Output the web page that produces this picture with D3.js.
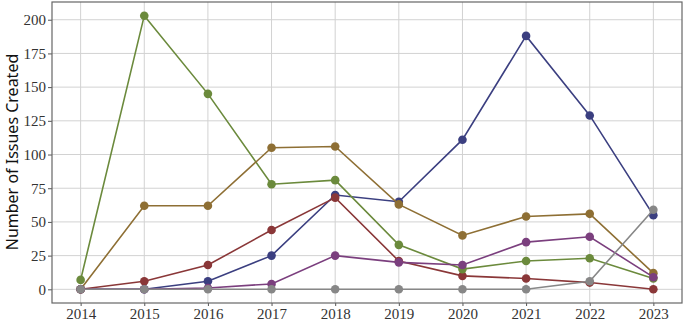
<!DOCTYPE html>
<html>
<head>
<meta charset="utf-8">
<script src="https://cdn.jsdelivr.net/npm/d3@7"></script>
<style>
  body { margin: 0; background: #fff; }
  svg { display: block; }
</style>
</head>
<body>
<svg id="chart"></svg>
<script>
// dimensioni della finestra
const width = 685;
const height = 322;

// anni sull'asse x
const years = [2014, 2015, 2016, 2017, 2018, 2019, 2020, 2021, 2022, 2023];
const yTicks = [0, 25, 50, 75, 100, 125, 150, 175, 200];

// serie, nell'ordine in cui vengono disegnate
const navyValues   = [0, 0, 6, 25, 70, 65, 111, 188, 129, 55];
const redValues    = [0, 6, 18, 44, 68, 21, 10, 8, 5, 0];
const greenValues  = [7, 203, 145, 78, 81, 33, 15, 21, 23, 8];
const goldValues   = [0, 62, 62, 105, 106, 63, 40, 54, 56, 12];
const purpleValues = [0, 0, 1, 4, 25, 20, 18, 35, 39, 9];
const grayValues   = [0, 0, 0, 0, 0, 0, 0, 0, 6, 59];

const seriesColors = ["#3b3f80", "#8a3738", "#6b8a3c", "#8e6f34", "#7b3f7e", "#878787"];

const series = [navyValues, redValues, greenValues, goldValues, purpleValues, grayValues]
  .map((values, i) => ({ color: seriesColors[i], values: values }));

// area del pannello
const margin = { top: 2, right: 3, bottom: 19, left: 52 };

const svg = d3.select("#chart")
  .attr("width", width)
  .attr("height", height);

const x = d3.scaleLinear()
  .domain([2014 - 0.45, 2023 + 0.45])
  .range([margin.left, width - margin.right]);

const yMax = d3.max(series, s => d3.max(s.values));
const y = d3.scaleLinear()
  .domain([-yMax * 0.05, yMax * 1.05])
  .range([height - margin.bottom, margin.top]);

// griglia
const grid = svg.append("g");
grid.selectAll("line.h")
  .data(yTicks)
  .join("line")
  .attr("x1", margin.left).attr("x2", width - margin.right)
  .attr("y1", d => y(d)).attr("y2", d => y(d))
  .attr("stroke", "#d2d2d2")
  .attr("stroke-width", 1);
grid.selectAll("line.v")
  .data(years)
  .join("line")
  .attr("x1", d => x(d)).attr("x2", d => x(d))
  .attr("y1", margin.top).attr("y2", height - margin.bottom)
  .attr("stroke", "#d2d2d2")
  .attr("stroke-width", 1);

// assi
const yAxis = svg.append("g")
  .attr("transform", `translate(${margin.left},0)`)
  .call(d3.axisLeft(y).tickValues(yTicks).tickSize(4).tickPadding(2));
const xAxis = svg.append("g")
  .attr("transform", `translate(0,${height - margin.bottom})`)
  .call(d3.axisBottom(x).tickValues(years).tickFormat(d3.format("d")).tickSize(3).tickPadding(2));

[yAxis, xAxis].forEach(a => {
  a.select(".domain").remove();
  a.selectAll(".tick line").attr("stroke", "#555");
  a.selectAll("text")
    .attr("fill", "#333")
    .style("font-family", "'Liberation Serif', 'DejaVu Serif', serif")
    .style("font-size", "15px");
});

// linee e punti
const line = d3.line()
  .x((d, i) => x(years[i]))
  .y(d => y(d));

const groups = svg.append("g")
  .selectAll("g")
  .data(series)
  .join("g");

groups.append("path")
  .attr("d", d => line(d.values))
  .attr("fill", "none")
  .attr("stroke", d => d.color)
  .attr("stroke-width", 1.6);

groups.selectAll("circle")
  .data(d => d.values.map((v, i) => ({ v: v, i: i, color: d.color })))
  .join("circle")
  .attr("cx", d => x(years[d.i]))
  .attr("cy", d => y(d.v))
  .attr("r", 4.3)
  .attr("fill", d => d.color);

// bordo del pannello
svg.append("rect")
  .attr("x", margin.left).attr("y", margin.top)
  .attr("width", width - margin.left - margin.right)
  .attr("height", height - margin.top - margin.bottom)
  .attr("fill", "none")
  .attr("stroke", "#666")
  .attr("stroke-width", 1.2);

// titolo asse y
svg.append("text")
  .attr("transform", `translate(14,152) rotate(-90)`)
  .attr("text-anchor", "middle")
  .attr("dominant-baseline", "middle")
  .attr("fill", "#111")
  .style("font-family", "'Noto Sans', 'DejaVu Sans', sans-serif")
  .style("font-size", "16px")
  .text("Number of Issues Created");
</script>
</body>
</html>
